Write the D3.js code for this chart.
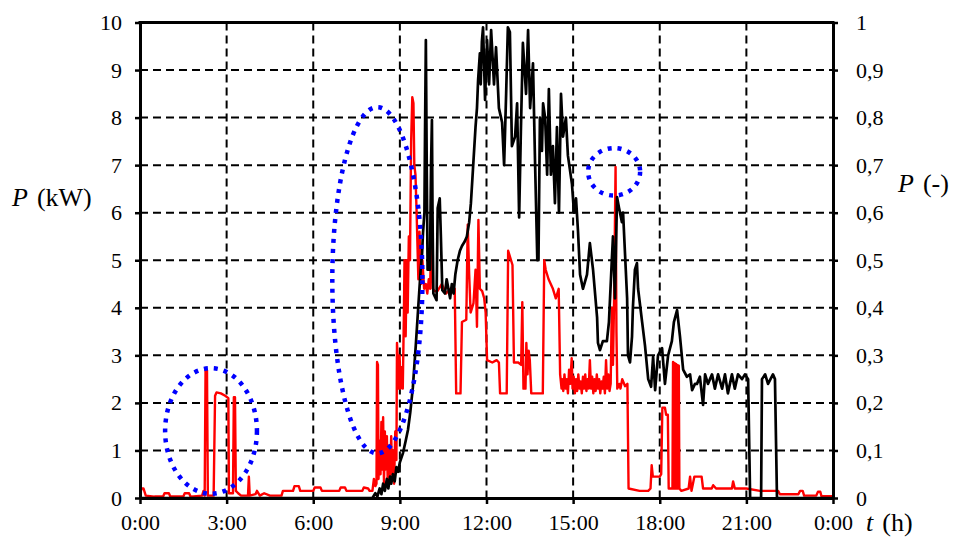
<!DOCTYPE html>
<html>
<head>
<meta charset="utf-8">
<script src="https://cdn.jsdelivr.net/npm/d3@7"></script>
<style>
    body { margin: 0; background: #fff; }
    svg text { font-family: "Liberation Serif", "Times New Roman", "DejaVu Serif", serif; fill: #000; }
</style>
</head>
<body>
<script>

// time of day (h) and load power (kW), red curve
const loadPoints = [
    [0, 0.05], [0.05, 0.2], [0.12, 0.2], [0.2, 0.05], [0.5, 0.03], [0.8, 0.03], [0.85, 0.1], [1.0, 0.1],
    [1.05, 0.03], [1.5, 0.03], [1.55, 0.1], [1.7, 0.1], [1.75, 0.03], [2.15, 0.05], [2.2, 0.15], [2.24, 0.05],
    [2.27, 2.68], [2.32, 2.68], [2.35, 0.05], [2.55, 0.05], [2.6, 2.15], [2.65, 2.22], [2.8, 2.2], [2.95, 2.15],
    [3.06, 2.1], [3.08, 0.1], [3.22, 0.1], [3.25, 2.12], [3.29, 2.12], [3.32, 0.15], [3.4, 0.1], [3.5, 0.05],
    [3.74, 0.05], [3.77, 0.45], [3.8, 0.05], [4.0, 0.08], [4.05, 0.15], [4.15, 0.05], [4.3, 0.1], [4.5, 0.05],
    [4.9, 0.05], [4.95, 0.15], [5.3, 0.15], [5.35, 0.25], [5.5, 0.25], [5.55, 0.15], [6.0, 0.15], [6.05, 0.22],
    [6.25, 0.22], [6.3, 0.15], [6.9, 0.15], [6.95, 0.22], [7.1, 0.22], [7.15, 0.15], [7.7, 0.15], [7.75, 0.22],
    [7.9, 0.2], [7.95, 0.15], [8.05, 0.15], [8.1, 0.4], [8.15, 0.25], [8.19, 0.3], [8.21, 2.86], [8.24, 2.8],
    [8.26, 0.4], [8.3, 1.2], [8.33, 0.5], [8.36, 1.6], [8.39, 0.6], [8.42, 1.7], [8.45, 0.3], [8.48, 1.4],
    [8.51, 0.6], [8.55, 1.3], [8.58, 0.3], [8.62, 1.1], [8.66, 0.4], [8.7, 1.3], [8.73, 0.5], [8.76, 1.0],
    [8.8, 0.3], [8.84, 1.4], [8.88, 0.8], [8.9, 3.26], [8.93, 2.9], [8.96, 2.3], [8.99, 3.0], [9.02, 2.3],
    [9.06, 2.75], [9.1, 2.3], [9.14, 3.9], [9.16, 5.0], [9.2, 3.4], [9.24, 5.0], [9.27, 3.9], [9.31, 5.5],
    [9.35, 5.0], [9.39, 7.5], [9.43, 8.43], [9.47, 8.3], [9.5, 7.0], [9.54, 6.8], [9.58, 6.0], [9.64, 4.6],
    [9.68, 5.6], [9.73, 4.5], [9.78, 5.0], [9.84, 4.4], [9.9, 4.5], [9.95, 4.3], [10.0, 4.6], [10.05, 4.4],
    [10.1, 6.3], [10.14, 4.4], [10.2, 4.35], [10.3, 4.35], [10.45, 4.5], [10.6, 4.3], [10.75, 4.4], [10.9, 4.4],
    [10.95, 2.2], [11.1, 2.2], [11.15, 3.7], [11.3, 3.75], [11.35, 5.75], [11.4, 4.7], [11.45, 3.9], [11.55, 4.1],
    [11.62, 4.8], [11.67, 3.6], [11.72, 5.85], [11.77, 4.4], [11.85, 4.35], [11.92, 4.2], [11.97, 3.9], [12.02, 2.9],
    [12.2, 2.85], [12.35, 2.9], [12.43, 2.85], [12.47, 2.2], [12.7, 2.2], [12.75, 5.2], [12.85, 5.0], [12.9, 4.9],
    [12.95, 2.85], [13.1, 2.85], [13.2, 2.8], [13.24, 4.12], [13.28, 2.3], [13.35, 2.3], [13.38, 3.26], [13.42, 2.6],
    [13.46, 3.1], [13.5, 2.9], [13.55, 2.2], [13.95, 2.2], [14.0, 5.0], [14.05, 4.8], [14.15, 4.6], [14.3, 4.4],
    [14.4, 4.2], [14.5, 4.4], [14.55, 2.6], [14.6, 2.3], [14.62, 2.5], [14.66, 2.25], [14.7, 2.6], [14.74, 2.3],
    [14.78, 2.5], [14.82, 2.2], [14.86, 2.7], [14.9, 2.4], [14.95, 2.94], [14.98, 2.3], [15.02, 2.55], [15.06, 2.2],
    [15.1, 2.5], [15.14, 2.25], [15.18, 2.6], [15.22, 2.3], [15.26, 2.45], [15.3, 2.2], [15.34, 2.55], [15.38, 2.3],
    [15.42, 2.6], [15.46, 2.25], [15.5, 2.5], [15.54, 2.3], [15.58, 2.9], [15.62, 2.3], [15.66, 2.55], [15.7, 2.2],
    [15.74, 2.5], [15.78, 2.25], [15.82, 2.6], [15.86, 2.3], [15.9, 2.5], [15.94, 2.2], [15.98, 2.45], [16.02, 2.3],
    [16.06, 2.55], [16.1, 2.2], [16.14, 2.9], [16.18, 2.3], [16.22, 2.6], [16.26, 2.25], [16.3, 2.4], [16.34, 4.0],
    [16.38, 2.8], [16.42, 4.2], [16.47, 6.96], [16.5, 3.5], [16.53, 2.3], [16.6, 2.4], [16.64, 2.3], [16.7, 2.5],
    [16.8, 2.35], [16.88, 2.4], [16.92, 0.2], [17.3, 0.15], [17.6, 0.15], [17.68, 0.2], [17.72, 0.69], [17.76, 0.45],
    [18.0, 0.45], [18.05, 0.5], [18.09, 1.9], [18.18, 1.9], [18.22, 1.75], [18.28, 1.75], [18.31, 0.2], [18.44, 0.2],
    [18.46, 2.86], [18.49, 0.2], [18.51, 2.84], [18.54, 0.2], [18.56, 2.82], [18.59, 0.2], [18.61, 2.8], [18.64, 0.2],
    [18.66, 2.78], [18.68, 0.2], [18.75, 0.15], [19.0, 0.2], [19.05, 0.45], [19.1, 0.15], [19.2, 0.45], [19.45, 0.45],
    [19.5, 0.2], [19.8, 0.2], [19.85, 0.27], [19.95, 0.2], [20.5, 0.2], [20.54, 0.35], [20.6, 0.2], [21.0, 0.2],
    [21.47, 0.15], [22.1, 0.15], [22.16, 0.08], [22.8, 0.08], [22.86, 0.15], [22.95, 0.15], [23.0, 0.05], [23.42, 0.05],
    [23.48, 0.13], [23.56, 0.13], [23.6, 0.04], [24, 0.04],
];

// time of day (h) and relative power (-), black curve
const sharePoints = [
    [0, 0], [8.05, 0], [8.15, 0.01], [8.22, 0.003], [8.3, 0.02], [8.36, 0.008], [8.42, 0.03], [8.48, 0.015],
    [8.55, 0.04], [8.6, 0.02], [8.66, 0.045], [8.7, 0.03], [8.76, 0.05], [8.82, 0.035], [8.88, 0.065], [8.94, 0.055],
    [9.0, 0.075], [9.11, 0.095], [9.2, 0.12], [9.28, 0.143], [9.36, 0.18], [9.45, 0.233], [9.55, 0.32], [9.63, 0.395],
    [9.72, 0.48], [9.77, 0.515], [9.8, 0.557], [9.85, 0.6], [9.87, 0.76], [9.9, 0.963], [9.93, 0.7], [9.96, 0.48],
    [10.04, 0.48], [10.08, 0.7], [10.11, 0.795], [10.13, 0.6], [10.16, 0.43], [10.27, 0.416], [10.31, 0.61], [10.38, 0.63],
    [10.42, 0.55], [10.47, 0.437], [10.56, 0.43], [10.62, 0.46], [10.68, 0.44], [10.74, 0.42], [10.8, 0.45], [10.86, 0.43],
    [10.92, 0.47], [11.0, 0.5], [11.08, 0.52], [11.15, 0.53], [11.25, 0.54], [11.32, 0.55], [11.4, 0.58], [11.46, 0.62],
    [11.53, 0.69], [11.62, 0.78], [11.67, 0.82], [11.71, 0.88], [11.77, 0.935], [11.8, 0.87], [11.84, 0.96], [11.88, 0.99],
    [11.95, 0.837], [12.02, 0.963], [12.09, 0.87], [12.16, 0.984], [12.26, 0.87], [12.33, 0.948], [12.43, 0.82], [12.54, 0.79],
    [12.61, 0.7], [12.68, 0.85], [12.74, 0.99], [12.81, 0.98], [12.88, 0.74], [12.99, 0.76], [13.06, 0.83], [13.13, 0.59],
    [13.19, 0.77], [13.26, 0.957], [13.37, 0.85], [13.44, 0.984], [13.51, 0.82], [13.61, 0.914], [13.68, 0.71], [13.76, 0.5],
    [13.8, 0.5], [13.85, 0.8], [13.92, 0.73], [13.96, 0.83], [14.03, 0.8], [14.1, 0.68], [14.16, 0.86], [14.23, 0.68],
    [14.3, 0.74], [14.37, 0.62], [14.44, 0.78], [14.51, 0.6], [14.58, 0.85], [14.65, 0.76], [14.75, 0.8], [14.82, 0.72],
    [14.96, 0.66], [15.03, 0.6], [15.1, 0.63], [15.17, 0.56], [15.24, 0.47], [15.34, 0.44], [15.48, 0.47], [15.58, 0.536],
    [15.69, 0.48], [15.83, 0.38], [15.86, 0.326], [15.93, 0.311], [16.03, 0.33], [16.17, 0.33], [16.24, 0.37], [16.34, 0.5],
    [16.38, 0.55], [16.45, 0.42], [16.52, 0.633], [16.59, 0.61], [16.69, 0.58], [16.73, 0.6], [16.8, 0.51], [16.87, 0.42],
    [16.9, 0.3], [16.97, 0.285], [17.04, 0.34], [17.07, 0.4], [17.14, 0.48], [17.21, 0.494], [17.25, 0.44], [17.39, 0.37],
    [17.49, 0.32], [17.6, 0.25], [17.7, 0.234], [17.77, 0.297], [17.84, 0.227], [17.94, 0.3], [18.08, 0.315], [18.18, 0.24],
    [18.29, 0.3], [18.42, 0.33], [18.49, 0.37], [18.6, 0.395], [18.7, 0.34], [18.81, 0.27], [18.94, 0.255], [19.05, 0.26],
    [19.12, 0.227], [19.22, 0.24], [19.29, 0.24], [19.39, 0.255], [19.5, 0.196], [19.57, 0.26], [19.67, 0.24], [19.81, 0.26],
    [19.91, 0.23], [20.02, 0.26], [20.16, 0.23], [20.26, 0.26], [20.36, 0.22], [20.5, 0.26], [20.6, 0.23], [20.71, 0.26],
    [20.85, 0.25], [20.95, 0.26], [21.06, 0.25], [21.13, 0], [21.51, 0], [21.54, 0.25], [21.65, 0.26], [21.75, 0.24],
    [21.92, 0.26], [21.99, 0.25], [22.06, 0], [24, 0],
];

const hourTicks = [0, 3, 6, 9, 12, 15, 18, 21, 24];
const hourLabels = ["0:00", "3:00", "6:00", "9:00", "12:00", "15:00", "18:00", "21:00", "0:00"];
const kwTicks = [0, 1, 2, 3, 4, 5, 6, 7, 8, 9, 10];
const shareTicks = [0, 0.1, 0.2, 0.3, 0.4, 0.5, 0.6, 0.7, 0.8, 0.9, 1];
const shareLabels = ["0", "0,1", "0,2", "0,3", "0,4", "0,5", "0,6", "0,7", "0,8", "0,9", "1"];

// blue dotted rings: centre (h, kW) and half sizes (h, kW)
const rings = [
    {t: 2.46, kw: 1.41, dt: 1.59, dkw: 1.32},
    {t: 8.22, kw: 4.58, dt: 1.56, dkw: 3.64},
    {t: 16.42, kw: 6.86, dt: 0.9, dkw: 0.5},
];

const serif = '"Liberation Serif", "Times New Roman", "DejaVu Serif", serif';
const size = {width: 954, height: 548};
const box = {left: 140, right: 833, top: 22.5, bottom: 498};

const svg = d3.select("body").append("svg")
    .attr("width", size.width)
    .attr("height", size.height);

const x = d3.scaleLinear().domain([0, 24]).range([box.left, box.right]);
const yKw = d3.scaleLinear().domain([0, 10]).range([box.bottom, box.top]);
const yShare = d3.scaleLinear().domain([0, 1]).range([box.bottom, box.top]);

// dashed grid
const grid = svg.append("g")
    .attr("stroke", "#000")
    .attr("stroke-width", 2)
    .attr("stroke-dasharray", "8 5");

grid.selectAll(".h")
    .data(kwTicks.slice(1))
    .join("line")
    .attr("x1", box.left).attr("x2", box.right)
    .attr("y1", d => yKw(d)).attr("y2", d => yKw(d));

grid.selectAll(".v")
    .data(hourTicks.slice(1))
    .join("line")
    .attr("x1", d => x(d)).attr("x2", d => x(d))
    .attr("y1", box.top).attr("y2", box.bottom);

// curves
const loadLine = d3.line().x(d => x(d[0])).y(d => yKw(d[1]));
const shareLine = d3.line().x(d => x(d[0])).y(d => yShare(d[1]));

svg.append("path")
    .attr("d", loadLine(loadPoints))
    .attr("fill", "none")
    .attr("stroke", "#ff0000")
    .attr("stroke-width", 2.4)
    .attr("stroke-linejoin", "round");

svg.append("path")
    .attr("d", shareLine(sharePoints))
    .attr("fill", "none")
    .attr("stroke", "#000")
    .attr("stroke-width", 2.7)
    .attr("stroke-linejoin", "round");

// axes
const styleAxis = function(g) {
    g.attr("font-family", null);
    g.select(".domain").attr("stroke-width", 3);
    g.selectAll(".tick line").attr("stroke-width", 2.5);
    g.selectAll(".tick text")
        .style("font-family", serif)
        .style("font-size", "22px");
};

svg.append("g")
    .attr("transform", `translate(${box.left},0)`)
    .call(d3.axisLeft(yKw).tickValues(kwTicks).tickSize(5).tickSizeOuter(0).tickPadding(13)
        .tickFormat(d3.format("d")))
    .call(styleAxis);

svg.append("g")
    .attr("transform", `translate(${box.right},0)`)
    .call(d3.axisRight(yShare).tickValues(shareTicks).tickSize(5).tickSizeOuter(0).tickPadding(18)
        .tickFormat((d, i) => shareLabels[i]))
    .call(styleAxis);

svg.append("g")
    .attr("transform", `translate(0,${box.bottom})`)
    .call(d3.axisBottom(x).tickValues(hourTicks).tickSize(6).tickSizeOuter(0).tickPadding(10)
        .tickFormat((d, i) => hourLabels[i]))
    .call(styleAxis);

svg.append("line")
    .attr("x1", box.left - 1.5).attr("x2", box.right + 1.5)
    .attr("y1", box.top).attr("y2", box.top)
    .attr("stroke", "#000")
    .attr("stroke-width", 3);

// rings
svg.append("g")
    .selectAll("ellipse")
    .data(rings)
    .join("ellipse")
    .attr("cx", d => x(d.t))
    .attr("cy", d => yKw(d.kw))
    .attr("rx", d => x(d.t + d.dt) - x(d.t))
    .attr("ry", d => yKw(0) - yKw(d.dkw))
    .attr("fill", "none")
    .attr("stroke", "#0000ff")
    .attr("stroke-width", 4.5)
    .attr("stroke-dasharray", "4 6");

// axis titles
const title = function(px, py, symbol, unit) {
    const t = svg.append("text")
        .attr("x", px)
        .attr("y", py)
        .style("font-family", serif)
        .style("font-size", "26px");
    t.append("tspan").style("font-style", "italic").text(symbol);
    t.append("tspan").attr("dx", 9).text(unit);
};

title(12, 206, "P", "(kW)");
title(898, 192, "P", "(-)");
title(866, 531, "t", "(h)");

</script>
</body>
</html>
